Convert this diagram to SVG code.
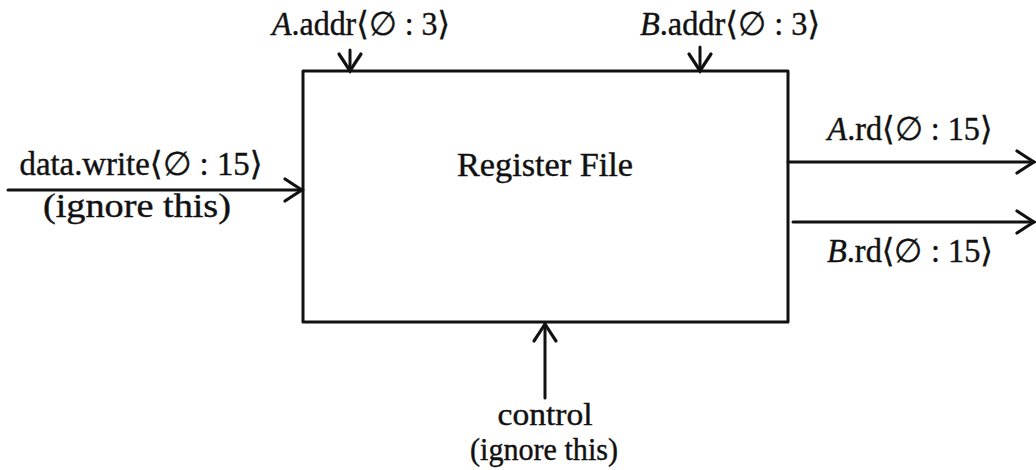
<svg xmlns="http://www.w3.org/2000/svg" width="1036" height="470" viewBox="0 0 1036 470">
<style>
text{font-family:"Liberation Serif","DejaVu Serif",serif;font-size:33px;fill:#111;stroke:#111;stroke-width:0.4;text-anchor:middle}
.it{font-style:italic}
.sm{font-size:31px}
.w{stroke:#111;stroke-width:3;fill:none;stroke-linecap:round;stroke-linejoin:round}
</style>
<defs>
<marker id="ah" markerUnits="userSpaceOnUse" markerWidth="30" markerHeight="30" viewBox="-22 -15 26 30" refX="0" refY="0" orient="auto" overflow="visible">
<path d="M -17 -11 Q -8 -5 0 0 Q -8 5 -17 11" fill="none" stroke="#111" stroke-width="3.2" stroke-linecap="round"/>
</marker>
</defs>
<rect width="1036" height="470" fill="#fff"/>
<g id="register-file">
<rect x="303" y="71" width="485" height="251" class="w"/>
<text x="545" y="176" textLength="176" lengthAdjust="spacingAndGlyphs">Register File</text>
</g>
<g id="a-addr">
<text x="361" y="35" textLength="178" lengthAdjust="spacingAndGlyphs"><tspan class="it">A</tspan>.addr⟨∅ : 3⟩</text>
</g>
<g id="b-addr">
<text x="730" y="35" textLength="180" lengthAdjust="spacingAndGlyphs"><tspan class="it">B</tspan>.addr⟨∅ : 3⟩</text>
</g>
<g id="data-write">
<text x="141" y="175" textLength="243" lengthAdjust="spacingAndGlyphs">data.write⟨∅ : 15⟩</text>
<text x="137" y="217" textLength="188" lengthAdjust="spacingAndGlyphs">(ignore this)</text>
</g>
<g id="a-rd">
<text x="910" y="140" textLength="165" lengthAdjust="spacingAndGlyphs"><tspan class="it">A</tspan>.rd⟨∅ : 15⟩</text>
</g>
<g id="b-rd">
<text x="910" y="262" textLength="166" lengthAdjust="spacingAndGlyphs"><tspan class="it">B</tspan>.rd⟨∅ : 15⟩</text>
</g>
<g id="control">
<text class="sm" x="545" y="425" textLength="95" lengthAdjust="spacingAndGlyphs">control</text>
<text class="sm" x="544" y="460" textLength="148" lengthAdjust="spacingAndGlyphs">(ignore this)</text>
</g>
<g id="connectors">
<line x1="350" y1="50" x2="350" y2="71" class="w" marker-end="url(#ah)"/>
<line x1="700" y1="47" x2="700" y2="71" class="w" marker-end="url(#ah)"/>
<line x1="8" y1="190" x2="302" y2="190" class="w" marker-end="url(#ah)"/>
<line x1="788" y1="162" x2="1034" y2="162" class="w" marker-end="url(#ah)"/>
<line x1="793" y1="222" x2="1034" y2="222" class="w" marker-end="url(#ah)"/>
<line x1="545" y1="398" x2="545" y2="324" class="w" marker-end="url(#ah)"/>
</g>
</svg>
